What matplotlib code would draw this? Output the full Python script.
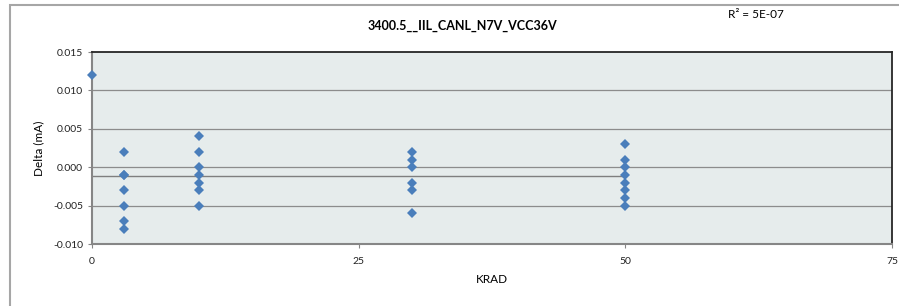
import matplotlib
matplotlib.use("Agg")
import matplotlib.pyplot as plt
import numpy as np
from matplotlib.patches import Rectangle

# Data
krad_levels = [0, 3, 10, 30, 50]
delta_0 = [0.012]
delta_3 = [0.002, -0.001, -0.001, -0.003, -0.005, -0.007, -0.008]
delta_10 = [0.004, 0.002, 0.000, -0.001, -0.002, -0.003, -0.005]
delta_30 = [0.002, 0.001, 0.000, -0.002, -0.003, -0.006]
delta_50 = [0.003, 0.001, 0.000, -0.001, -0.002, -0.003, -0.004, -0.005]
groups = [delta_0, delta_3, delta_10, delta_30, delta_50]

x_ticks = [0, 25, 50, 75]
y_ticks = [-0.010, -0.005, 0.000, 0.005, 0.010, 0.015]
title = "3400.5__IIL_CANL_N7V_VCC36V"
r2_text = "R² = 5E-07"

xs = np.concatenate([[k] * len(g) for k, g in zip(krad_levels, groups)]).astype(float)
ys = np.concatenate(groups)

plt.rcParams['font.family'] = ['Lato', 'DejaVu Sans']

W, H = 899, 306
fig = plt.figure(figsize=(W / 100, H / 100), dpi=100)
ax = fig.add_axes([92 / W, 1 - 244 / H, (892 - 92) / W, (244 - 52) / H])
ax.set_facecolor('#E6ECEC')

# outer chart border
fig.patches.append(Rectangle((10 / W, -0.1), 1.2, 1 - 5 / H + 0.1, transform=fig.transFigure,
                             fill=False, edgecolor='#A6A6A6', linewidth=1.5, zorder=0))

ax.set_xlim(0, 75)
ax.set_ylim(-0.010, 0.015)
ax.set_xticks(x_ticks)
ax.set_yticks(y_ticks)
ax.set_yticklabels([f"{v:.3f}" for v in y_ticks])
ax.set_xticklabels([str(v) for v in x_ticks])
ax.tick_params(axis='both', labelsize=7.5, colors='#222222', length=3, width=0.8)
ax.tick_params(axis='both', color='#868686')
ax.tick_params(axis='x', pad=6)

for v in y_ticks[1:-1]:
    ax.axhline(v, color='#8C8C8C', linewidth=0.9, zorder=1)

for side in ['left', 'bottom']:
    ax.spines[side].set_color('#868686')
    ax.spines[side].set_linewidth(1.5)
for side in ['top', 'right']:
    ax.spines[side].set_color('#262626')
    ax.spines[side].set_linewidth(1.3)

# trend line (essentially flat, R^2 ~ 0)
level = np.polyfit(xs, ys, 0)
tx = np.array([xs.min(), xs.max()])
ax.plot(tx, np.polyval(level, tx), color='#7F7F7F', linewidth=1.0, zorder=2)

ax.plot(xs, ys, linestyle='none', marker='D', markersize=5.2, color='#4A7EBB',
        markeredgewidth=0, zorder=3, clip_on=False)

ax.set_xlabel("KRAD", fontsize=8.5, labelpad=6)
ax.set_ylabel("Delta (mA)", fontsize=8.5, labelpad=6)

fig.text(462 / W, 1 - 26 / H, title, ha='center', va='center', fontsize=9, fontweight='bold')
fig.text(728 / W, 1 - 14 / H, r2_text, ha='left', va='center', fontsize=8.5)

fig.savefig("out.png", dpi=100)
